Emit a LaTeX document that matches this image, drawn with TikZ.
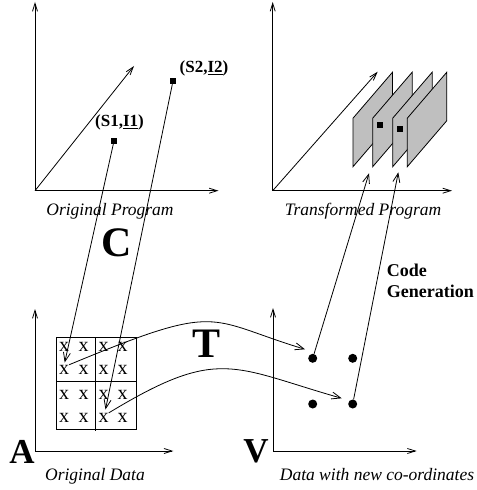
\documentclass[tikz,border=0pt]{standalone}
\usepackage{fontspec}
\setmainfont{Liberation Serif}
\usetikzlibrary{arrows.meta}

\begin{document}
\begin{tikzpicture}[x=1bp, y=-1bp,
  line/.style={line width=0.8bp},
  axis/.style={line, -{Straight Barb[length=8bp,width=5bp]}},
  arr/.style={line, -{Straight Barb[length=9bp,width=7bp]}},
  panel/.style={line, fill=black!25},
  pt/.style={rectangle, fill=black, inner sep=0pt, minimum size=6bp},
  dot/.style={circle, fill=black, inner sep=0pt, minimum size=9bp},
  cell/.style={font=\fontsize{20bp}{20bp}\selectfont, inner sep=0pt},
  caption/.style={font=\fontsize{17.5bp}{20bp}\selectfont\itshape, anchor=base, inner sep=0pt},
  pairlbl/.style={font=\fontsize{17bp}{20bp}\selectfont\bfseries, anchor=base, inner sep=0pt},
  cglbl/.style={font=\fontsize{18bp}{20bp}\selectfont\bfseries, anchor=base west, inner sep=0pt},
  biglbl/.style={font=\fontsize{42bp}{44bp}\selectfont\bfseries, anchor=base, inner sep=0pt},
  midlbl/.style={font=\fontsize{35bp}{37bp}\selectfont\bfseries, anchor=base, inner sep=0pt}]
\useasboundingbox (0,0) rectangle (477,490);

% ---------- original program space ----------
\coordinate (o1) at (35,190.7);
\draw[axis] (o1) -- (35,2);
\draw[axis] (o1) -- (218.5,190.7);
\draw[axis] (o1) -- (134,66);
\node[pt] (s1) at (114,141) {};
\node[pt] (s2) at (173,81) {};
\node[pairlbl] (l1) at (119.5,126.7) {(S1,\underline{I1})};
\node[pairlbl] (l2) at (204,72.7) {(S2,\underline{I2})};
\node[caption] (cap1) at (110,215) {Original Program};

% ---------- transformed program space ----------
\coordinate (o2) at (272.7,190.7);
\draw[axis] (o2) -- (272.7,2);
\draw[axis] (o2) -- (452,190.7);
\draw[axis] (o2) -- (377.7,71.7);
\foreach \px in {353,372.7,392.7,407.3}
  \draw[panel] (\px,166.7) -- ++(0,-48.5) -- ++(39.5,-46) -- ++(0,48.5) -- cycle;
\node[pt] (p1) at (380,125) {};
\node[pt] (p2) at (400,129) {};
\node[caption] (cap2) at (363,215) {Transformed Program};

% ---------- original data ----------
\coordinate (o3) at (35,451);
\draw[axis] (o3) -- (35,309);
\draw[axis] (o3) -- (173.3,451);
\draw[line] (56,337) rectangle (136,429);
\draw[line] (95,337) -- (95,431);
\draw[line] (56,381) -- (136,381);
\foreach \r/\ry in {1/346.7,2/369.5,3/395,4/417.7}
  \foreach \c/\cx in {1/64,2/83.5,3/103.5,4/122.7}
    \node[cell] (x\r\c) at (\cx,\ry) {x};
\node[midlbl] (la) at (22,463) {A};
\node[caption] (cap3) at (95,480.7) {Original Data};

% ---------- data with new co-ordinates ----------
\coordinate (o4) at (273,451);
\draw[axis] (o4) -- (273,308);
\draw[axis] (o4) -- (416.7,451);
\node[dot] (d1) at (312.7,358.3) {};
\node[dot] (d2) at (352.7,358.3) {};
\node[dot] (d3) at (312.7,404) {};
\node[dot] (d4) at (352.7,404) {};
\node[midlbl] (lv) at (256,462) {V};
\node[caption] (cap4) at (377,480.7) {Data with new co-ordinates};

% ---------- mappings ----------
% C : statement instances to the data they touch
\coordinate (c1) at (64.7,362.5);
\coordinate (c2) at (105.5,409.5);
\draw[arr] (s1) -- (c1);
\draw[arr] (s2) -- (c2);
\node[biglbl] (lc) at (117,256) {C};

% T : data transformation
\coordinate (t1) at (305,349.3);
\coordinate (t2) at (341.7,398.3);
\draw[arr] (x21.north east) .. controls (223,301) and (205,319) .. (t1);
\draw[arr] (x43.north east) .. controls (219,346) and (232,367) .. (t2);
\node[biglbl] (lt) at (207,357) {T};

% code generation
\coordinate (g1) at (369,173.3);
\coordinate (g2) at (398.3,172.3);
\draw[arr] (d1) -- (g1);
\draw[arr] (d4) -- (g2);
\node[cglbl] (cg1) at (386.7,276) {Code};
\node[cglbl] (cg2) at (386.7,297) {Generation};
\end{tikzpicture}
\end{document}
